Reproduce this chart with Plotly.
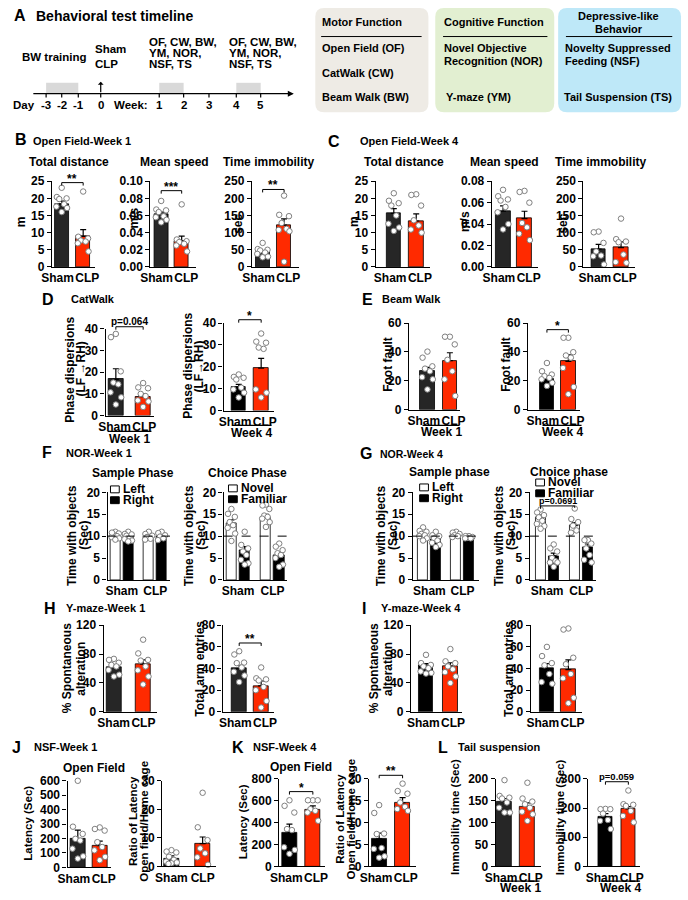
import plotly.graph_objects as go

W, H = 688, 900
FONT = "Arial, Liberation Sans, sans-serif"
RED = "#ff2a00"
DARK = "#262626"
BLACK = "#000000"
WHITE = "#ffffff"
DOT_EDGE = "#7f7f7f"

# ======================= DATA =======================
groups = ["Sham", "CLP"]
nor_groups = ["Sham", "CLP"]

# B  Open Field - Week 1
ofw1_dist_mean = [18.4, 8.9]
ofw1_dist_sem = [0.8, 2.0]
ofw1_dist_sham = [23.1, 20.4, 20.0, 19.8, 18.3, 17.6, 17.2, 16.0]
ofw1_dist_clp = [22.0, 8.8, 8.3, 7.7, 7.4, 6.9, 4.5]
ofw1_speed_mean = [0.062, 0.030]
ofw1_speed_sem = [0.002, 0.006]
ofw1_speed_sham = [0.077, 0.067, 0.066, 0.064, 0.059, 0.058, 0.055, 0.052]
ofw1_speed_clp = [0.073, 0.032, 0.030, 0.029, 0.027, 0.025, 0.018]
ofw1_immob_mean = [42, 122]
ofw1_immob_sem = [5, 18]
ofw1_immob_sham = [70, 52, 50, 48, 42, 38, 30, 28]
ofw1_immob_clp = [208, 152, 148, 128, 111, 108, 104, 15]

# C  Open Field - Week 4
ofw4_dist_mean = [15.6, 13.4]
ofw4_dist_sem = [1.4, 2.1]
ofw4_dist_sham = [21.5, 19.3, 18.6, 17.9, 15.0, 12.6, 11.5, 10.5]
ofw4_dist_clp = [21.2, 21.0, 17.9, 13.6, 12.1, 10.9, 10.0]
ofw4_speed_mean = [0.052, 0.045]
ofw4_speed_sem = [0.005, 0.007]
ofw4_speed_sham = [0.072, 0.066, 0.063, 0.062, 0.056, 0.051, 0.040, 0.035]
ofw4_speed_clp = [0.071, 0.070, 0.060, 0.041, 0.037, 0.031, 0.025]
ofw4_immob_mean = [52, 56]
ofw4_immob_sem = [14, 17]
ofw4_immob_sham = [103, 101, 70, 45, 33, 31, 7]
ofw4_immob_clp = [141, 81, 74, 72, 36, 14, 12]

# D  CatWalk phase dispersions
cw_w1_mean = [16.7, 8.7]
cw_w1_sem = [4.9, 1.4]
cw_w1_sham = [37.7, 36.2, 20.4, 15.2, 14.4, 10.7, 8.4, 5.1]
cw_w1_clp = [15.0, 13.0, 12.6, 10.0, 9.0, 7.0, 6.5, 4.0]
cw_w4_mean = [10.8, 19.4]
cw_w4_sem = [1.2, 4.5]
cw_w4_sham = [16.5, 15.4, 15.0, 14.2, 10.5, 9.7, 8.2, 6.0]
cw_w4_clp = [35.2, 31.5, 31.0, 28.8, 28.2, 9.7, 8.2, 6.0]

# E  Beam walk foot faults
bw_w1_mean = [26.6, 33.9]
bw_w1_sem = [2.7, 5.5]
bw_w1_sham = [40.2, 36.0, 30.0, 28.4, 26.6, 22.5, 21.0, 14.0]
bw_w1_clp = [50.5, 50.5, 45.2, 34.5, 26.6, 21.0, 9.5]
bw_w4_mean = [21.2, 33.4]
bw_w4_sem = [2.0, 4.5]
bw_w4_sham = [32.3, 26.6, 24.3, 23.2, 22.0, 21.0, 18.6, 16.4]
bw_w4_clp = [49.8, 49.8, 39.8, 37.5, 36.0, 28.9, 15.7, 10.7]

# F  NOR week 1  (order: Sham-a, Sham-b, CLP-a, CLP-b)
nor1_sample_mean = [10.0, 10.0, 10.0, 10.0]
nor1_sample_sem = [0.3, 0.3, 0.3, 0.3]
nor1_sample_pts = [[11.0, 10.6, 10.3, 10.0, 9.8, 9.5, 9.2, 10.8],
                   [11.0, 10.5, 10.1, 9.6, 9.3, 9.0, 8.8, 10.4],
                   [11.0, 10.5, 10.1, 9.8, 9.4, 9.2],
                   [11.0, 10.7, 10.2, 9.9, 9.5, 9.1]]
nor1_choice_mean = [12.9, 6.8, 14.4, 5.6]
nor1_choice_sem = [0.8, 0.8, 0.6, 0.6]
nor1_choice_pts = [[16.2, 15.1, 14.4, 13.2, 12.5, 11.9, 10.6, 8.9],
                   [11.0, 8.0, 7.2, 6.5, 5.7, 4.6, 3.8, 3.5],
                   [17.2, 17.0, 16.2, 14.7, 14.4, 14.0, 13.2, 12.1],
                   [8.3, 7.6, 6.8, 6.1, 5.7, 5.0, 3.5, 3.0]]

# G  NOR week 4
nor4_sample_mean = [10.5, 9.2, 10.4, 9.7]
nor4_sample_sem = [0.3, 0.4, 0.2, 0.2]
nor4_sample_pts = [[12.0, 11.2, 11.0, 10.5, 10.2, 10.0, 9.5, 9.0],
                   [11.0, 10.2, 10.0, 9.5, 9.0, 8.5, 8.0, 7.5],
                   [11.0, 10.8, 10.5, 10.2, 10.0, 9.8],
                   [10.0, 10.0, 9.8, 9.6, 9.5, 9.5]]
nor4_choice_mean = [14.3, 5.5, 12.4, 7.5]
nor4_choice_sem = [0.5, 0.6, 0.7, 0.7]
nor4_choice_pts = [[16.1, 15.4, 14.8, 14.3, 13.5, 12.8, 12.3, 11.7],
                   [8.1, 7.2, 6.5, 5.0, 4.3, 4.0, 4.0, 3.0],
                   [16.3, 13.9, 13.2, 12.4, 11.3, 10.8],
                   [9.1, 9.1, 8.3, 7.2, 5.7, 4.6, 4.0]]

# H / I  Y-maze
ym1_alt_mean = [62, 66]
ym1_alt_sem = [3, 6]
ym1_alt_sham = [73.4, 72.0, 68.0, 65.0, 63.0, 58.0, 51.5, 49.0]
ym1_alt_clp = [100, 81, 72, 71, 63, 57.5, 49, 38]
ym1_arm_mean = [40, 24]
ym1_arm_sem = [3, 4.5]
ym1_arm_sham = [56, 53, 45.5, 45, 41, 37, 33.5, 27.5]
ym1_arm_clp = [41, 31, 30, 29, 23, 20, 10, 4]
ym4_alt_mean = [64, 63]
ym4_alt_sem = [3, 5]
ym4_alt_sham = [79, 67.5, 65, 63, 60.5, 56, 54, 53]
ym4_alt_clp = [87, 70, 67.5, 63, 59, 55, 49, 40]
ym4_arm_mean = [40, 39]
ym4_arm_sem = [4.5, 9]
ym4_arm_sham = [60, 51.5, 45, 43, 35, 27.5, 26]
ym4_arm_clp = [77, 76, 50, 44, 35, 31, 13, 8]

# J / K  NSF
nsf1_lat_mean = [198, 150]
nsf1_lat_sem = [60, 32]
nsf1_lat_sham = [600, 282, 232, 198, 186, 130, 77, 61]
nsf1_lat_clp = [277, 266, 255, 175, 141, 118, 73, 50]
nsf1_ratio_mean = [2.6, 8.0]
nsf1_ratio_sem = [1.1, 2.3]
nsf1_ratio_sham = [5.7, 5.2, 4.9, 3.4, 2.3, 1.7, 1.4, 1.1, 0.9]
nsf1_ratio_clp = [25.8, 13.7, 9.2, 6.3, 4.6, 3.2, 0.6]
nsf4_lat_mean = [311, 517]
nsf4_lat_sem = [76, 36]
nsf4_lat_sham = [604, 553, 492, 341, 332, 175, 151, 115]
nsf4_lat_clp = [604, 604, 604, 523, 508, 492, 417]
nsf4_ratio_mean = [6.3, 14.5]
nsf4_ratio_sem = [1.3, 1.2]
nsf4_ratio_sham = [14.0, 12.2, 7.5, 7.4, 4.2, 4.0, 2.3, 2.0]
nsf4_ratio_clp = [18.9, 17.2, 16.6, 14.6, 13.6, 13.1, 12.7]

# L  Tail suspension
ts1_mean = [148, 137]
ts1_sem = [7, 8]
ts1_sham = [197, 161, 157, 155, 146, 134, 123, 123]
ts1_clp = [191, 155, 148, 142, 134, 125, 119, 104]
ts4_mean = [170, 197]
ts4_sem = [11, 8]
ts4_sham = [197, 196, 196, 181, 159, 156, 128]
ts4_clp = [260, 213, 211, 207, 190, 173, 151]

# A  timeline labels
day_labels = ["-3", "-2", "-1", "0"]
week_labels = ["1", "2", "3", "4", "5"]

# ======================= HELPERS =======================
fig = go.Figure()
LAY = {}
SHAPES = []
ANNS = []
_n = [0]


def X(p):
    return p / W


def Y(p):
    return 1 - p / H


def font(size):
    return dict(family=FONT, size=size, color="black", weight="bold")


def label(x, y, s, size=12, xanchor="center", yanchor="middle", angle=0):
    ANNS.append(dict(x=X(x), y=Y(y), xref="paper", yref="paper", text=s,
                     showarrow=False, font=font(size), xanchor=xanchor,
                     yanchor=yanchor, textangle=angle, borderpad=0))


def pline(x0, y0, x1, y1, width=1.2, color="black", dash=None):
    ln = dict(color=color, width=width)
    if dash:
        ln["dash"] = dash
    SHAPES.append(dict(type="line", xref="paper", yref="paper", x0=X(x0), y0=Y(y0),
                       x1=X(x1), y1=Y(y1), line=ln))


def prect(x0, y0, x1, y1, fill, line_w=0, line_c="black"):
    SHAPES.append(dict(type="rect", xref="paper", yref="paper", x0=X(x0), y0=Y(y1),
                       x1=X(x1), y1=Y(y0), fillcolor=fill,
                       line=dict(width=line_w, color=line_c)))


def make_axes(x0, x1, ytop, ybot, ymax, dtick, pos, c_first, c_last,
              tickvals, ticktext, fmt=None, label_spread_px=0.0):
    _n[0] += 1
    k = _n[0]
    s = "" if k == 1 else str(k)
    unit = (c_last - c_first) / (pos[-1] - pos[0])
    r0 = pos[0] - (c_first - x0) / unit
    r1 = pos[-1] + (x1 - c_last) / unit
    d = label_spread_px / unit
    tv = [tickvals[0] - d, tickvals[-1] + d]
    LAY["xaxis" + s] = dict(domain=[X(x0), X(x1)], range=[r0, r1], anchor="y" + s,
                            showline=True, linecolor="black", linewidth=1.3, ticks="",
                            tickmode="array", tickvals=tv, ticktext=ticktext,
                            tickangle=0, tickfont=font(12), showgrid=False,
                            zeroline=False, fixedrange=True)
    yax = dict(domain=[Y(ybot), Y(ytop)], range=[0, ymax], anchor="x" + s,
               showline=True, linecolor="black", linewidth=1.3, ticks="outside",
               ticklen=4, tickwidth=1.3, tickcolor="black", tick0=0, dtick=dtick,
               tickangle=0, tickfont=font(12), showgrid=False, zeroline=False,
               fixedrange=True)
    if fmt:
        yax["tickformat"] = fmt
    LAY["yaxis" + s] = yax
    return dict(x="x" + s, y="y" + s, r0=r0, r1=r1, unit=unit, ymax=ymax,
                hpx=ybot - ytop)


def add_bars(ax, pos, means, sems, colors, bw_px):
    fig.add_trace(go.Bar(
        x=pos, y=means, width=bw_px / ax["unit"], xaxis=ax["x"], yaxis=ax["y"],
        marker=dict(color=colors, line=dict(color="black", width=0.8)),
        error_y=dict(type="data", array=sems, arrayminus=[0] * len(sems),
                     symmetric=False, color="black", thickness=1.2, width=3),
        showlegend=False, hoverinfo="skip"))


JITTER_PX = [0, -5, 5, -2.5, 2.5, -5.5, 5.5, 0, -3, 3]


def add_dots(ax, p, vals, scale=1.0):
    order = sorted(range(len(vals)), key=lambda k: -vals[k])
    xs = [0.0] * len(vals)
    for r, k in enumerate(order):
        xs[k] = p + JITTER_PX[r % len(JITTER_PX)] * scale / ax["unit"]
    fig.add_trace(go.Scatter(
        x=xs, y=vals, mode="markers", xaxis=ax["x"], yaxis=ax["y"],
        marker=dict(size=5.5, color="white", line=dict(color=DOT_EDGE, width=1)),
        cliponaxis=False, showlegend=False, hoverinfo="skip"))


def dom_x(ax, p):
    return (p - ax["r0"]) / (ax["r1"] - ax["r0"])


def bracket(ax, pa, pb, yv, text, size=12, drop_px=3, shift=-4, drop_b=None):
    xr = ax["x"] + " domain"
    yr = ax["y"] + " domain"
    fa, fb = dom_x(ax, pa), dom_x(ax, pb)
    yf = yv / ax["ymax"]
    da = drop_px / ax["hpx"]
    db = (drop_b if drop_b is not None else drop_px) / ax["hpx"]
    ln = dict(color="black", width=1)
    SHAPES.append(dict(type="line", xref=xr, yref=yr, x0=fa, x1=fb, y0=yf, y1=yf, line=ln))
    SHAPES.append(dict(type="line", xref=xr, yref=yr, x0=fa, x1=fa, y0=yf, y1=yf - da, line=ln))
    SHAPES.append(dict(type="line", xref=xr, yref=yr, x0=fb, x1=fb, y0=yf, y1=yf - db, line=ln))
    ANNS.append(dict(x=(fa + fb) / 2, y=yf, xref=xr, yref=yr, text=text, showarrow=False,
                     font=font(size), xanchor="center", yanchor="bottom", yshift=shift,
                     borderpad=0))


LABEL_MIN_SEP = 30.5   # px between the centres of "Sham" and "CLP" labels


def two_bar(x0, x1, ytop, ybot, ymax, dtick, c0, c1, means, sems, sham, clp,
            sham_color=DARK, bw=15, fmt=None):
    spread = max(0.0, (LABEL_MIN_SEP - (c1 - c0)) / 2)
    ax = make_axes(x0, x1, ytop, ybot, ymax, dtick, [0, 1], c0, c1, [0, 1], groups,
                   fmt, spread)
    add_bars(ax, [0, 1], means, sems, [sham_color, RED], bw)
    add_dots(ax, 0, sham)
    add_dots(ax, 1, clp)
    return ax


NOR_POS = [0, 1, 2.6, 3.6]


def nor_panel(x0, x1, c_first, c_last, means, sems, pts, names, leg_x, leg_y):
    ax = make_axes(x0, x1, 493, 582, 20, 5, NOR_POS, c_first, c_last,
                   [0.5, 3.1], nor_groups)
    add_bars(ax, NOR_POS, means, sems, [WHITE, BLACK, WHITE, BLACK], 10.5)
    for p, v in zip(NOR_POS, pts):
        add_dots(ax, p, v, 0.7)
    SHAPES.append(dict(type="line", xref=ax["x"] + " domain", yref=ax["y"] + " domain",
                       x0=0, x1=1, y0=0.5, y1=0.5,
                       line=dict(color="black", width=1, dash="dash")))
    for i, (nm, fill) in enumerate(zip(names, [WHITE, BLACK])):
        yy = leg_y + i * 11
        prect(leg_x, yy - 3.5, leg_x + 9, yy + 3.5, fill, 1)
        label(leg_x + 12, yy, nm, 12, xanchor="left")
    return ax


# ======================= PANEL A =======================
label(9, 9, "A", 16)
label(25, 9, "Behavioral test timeline", 14, xanchor="left")

tl_y = 88
tick_px = [36, 52, 69, 92, 152, 177, 203, 231, 256]
for (a, b) in [(36, 69), (152, 177), (231, 256)]:
    prect(a, 77, b, tl_y, "#d9d9d9")
ANNS.append(dict(x=X(290), y=Y(tl_y), xref="paper", yref="paper", ax=-262, ay=0,
                 text="", showarrow=True, arrowhead=2, arrowsize=1, arrowwidth=1.2,
                 arrowcolor="black"))
for t in tick_px:
    pline(t, tl_y, t, tl_y + 4, 1.2)
ANNS.append(dict(x=X(92), y=Y(76), xref="paper", yref="paper", ax=0, ay=12,
                 text="", showarrow=True, arrowhead=1, arrowsize=0.8, arrowwidth=1.2,
                 arrowcolor="black"))
label(13, 100, "Day", 11.5)
for s, t in zip(day_labels + week_labels, tick_px):
    label(t, 100, s, 11.5)
label(123, 100, "Week:", 11.5)
label(45, 51, "BW training", 11.5)
label(85, 43, "Sham", 11.5, xanchor="left")
label(85, 58, "CLP", 11.5, xanchor="left")
for xl in (140, 222):
    label(xl, 36, "OF, CW, BW,", 11.5, xanchor="left")
    label(xl, 47, "YM, NOR,", 11.5, xanchor="left")
    label(xl, 58, "NSF, TS", 11.5, xanchor="left")


def rounded_box(x0, y0, x1, y1, r, fill):
    a0, a1 = X(x0), X(x1)
    b1, b0 = Y(y0), Y(y1)
    rx, ry = r / W, r / H
    path = (f"M{a0 + rx},{b1} L{a1 - rx},{b1} Q{a1},{b1} {a1},{b1 - ry} "
            f"L{a1},{b0 + ry} Q{a1},{b0} {a1 - rx},{b0} L{a0 + rx},{b0} "
            f"Q{a0},{b0} {a0},{b0 + ry} L{a0},{b1 - ry} Q{a0},{b1} {a0 + rx},{b1} Z")
    SHAPES.append(dict(type="path", xref="paper", yref="paper", path=path,
                       fillcolor=fill, line=dict(width=0), layer="below"))


rounded_box(312, 1, 428, 107, 9, "#eeebe5")
rounded_box(435, 1, 557, 107, 9, "#e2efd1")
rounded_box(561, 1, 687, 107, 9, "#bee8f8")

label(318, 15, "Motor Function", 11, xanchor="left")
pline(318, 30, 421, 30, 1)
label(318, 42, "Open Field (OF)", 11, xanchor="left")
label(318, 67, "CatWalk (CW)", 11, xanchor="left")
label(318, 91, "Beam Walk (BW)", 11, xanchor="left")

label(443, 15, "Cognitive Function", 11, xanchor="left")
pline(443, 30, 550, 30, 1)
label(443, 42, "Novel Objective", 11, xanchor="left")
label(443, 55, "Recognition (NOR)", 11, xanchor="left")
label(445, 91, "Y-maze (YM)", 11, xanchor="left")

label(623, 9, "Depressive-like", 11)
label(623, 22, "Behavior", 11)
pline(569, 30, 678, 30, 1)
label(567, 42, "Novelty Suppressed", 11, xanchor="left")
label(567, 55, "Feeding (NSF)", 11, xanchor="left")
label(566, 91, "Tail Suspension (TS)", 11, xanchor="left")

# ======================= PANEL B =======================
label(10, 135, "B", 16)
label(22, 136, "Open Field-Week 1", 11, xanchor="left")
label(59, 157, "Total distance", 12)
label(168, 157, "Mean speed", 12)
label(264, 157, "Time immobility", 12)
b1 = two_bar(42, 86, 177, 264, 25, 5, 52, 74, ofw1_dist_mean, ofw1_dist_sem,
             ofw1_dist_sham, ofw1_dist_clp, bw=14)
bracket(b1, 0, 1, 24.6, "**", 12)
b2 = two_bar(143, 190, 177, 264, 0.10, 0.02, 154, 175, ofw1_speed_mean, ofw1_speed_sem,
             ofw1_speed_sham, ofw1_speed_clp, bw=14, fmt=".2f")
bracket(b2, 0, 1, 0.089, "***", 12)
b3 = two_bar(247, 295, 177, 264, 250, 50, 258, 280, ofw1_immob_mean, ofw1_immob_sem,
             ofw1_immob_sham, ofw1_immob_clp, bw=14)
bracket(b3, 0, 1, 226, "**", 12)
label(10, 218, "m", 12, angle=-90)
label(126, 214, "m/s", 12, angle=-90)
label(232, 220, "sec", 12, angle=-90)

# ======================= PANEL C =======================
label(331, 137, "C", 16)
label(357, 136, "Open Field-Week 4", 11, xanchor="left")
label(403, 157, "Total distance", 12)
label(506, 157, "Mean speed", 12)
label(604, 157, "Time immobility", 12)
two_bar(374, 430, 177, 264, 25, 5, 392.5, 415.5, ofw4_dist_mean, ofw4_dist_sem,
        ofw4_dist_sham, ofw4_dist_clp)
two_bar(493, 540, 177, 264, 0.08, 0.02, 504.5, 526.5, ofw4_speed_mean, ofw4_speed_sem,
        ofw4_speed_sham, ofw4_speed_clp, fmt=".2f")
two_bar(587, 640, 177, 264, 250, 50, 602.5, 625.5, ofw4_immob_mean, ofw4_immob_sem,
        ofw4_immob_sham, ofw4_immob_clp)
label(351, 218, "m", 12, angle=-90)
label(465, 218, "m/s", 12, angle=-90)
label(566, 220, "sec", 12, angle=-90)

# ======================= PANEL D =======================
label(38, 297, "D", 16)
label(60, 297, "CatWalk", 11, xanchor="left")
d1 = two_bar(97, 147, 327, 415, 40, 10, 107.5, 135.5, cw_w1_mean, cw_w1_sem,
             cw_w1_sham, cw_w1_clp)
bracket(d1, 0, 1, 41, "p=0.064", 10, shift=-1)
d2 = two_bar(218, 270, 321, 410, 40, 10, 233.5, 256.5, cw_w4_mean, cw_w4_sem,
             cw_w4_sham, cw_w4_clp, sham_color=BLACK)
bracket(d2, 0, 1, 41.5, "*", 12)
label(61, 368, "Phase dispersions", 12, angle=-90)
label(72, 368, "(LF →RH)", 12, angle=-90)
label(182, 365, "Phase dispersions", 12, angle=-90)
label(193, 365, "(LF→RH)", 12, angle=-90)
pline(99, 431, 144, 431, 1.2)
label(121, 439, "Week 1", 12)
pline(227, 425, 267, 425, 1.2)
label(247, 433, "Week 4", 12)

# ======================= PANEL E =======================
label(366, 297, "E", 16)
label(379, 297, "Beam Walk", 11, xanchor="left")
two_bar(408, 460, 321, 409, 60, 20, 427, 450, bw_w1_mean, bw_w1_sem,
        bw_w1_sham, bw_w1_clp)
e2 = two_bar(530, 583, 321, 409, 60, 20, 549.5, 571.5, bw_w4_mean, bw_w4_sem,
             bw_w4_sham, bw_w4_clp, sham_color=BLACK)
bracket(e2, 0, 1, 55.4, "*", 12)
label(387, 363, "Foot fault", 12, angle=-90)
label(508, 363, "Foot fault", 12, angle=-90)
pline(422, 425, 460, 425, 1.2)
label(441, 432, "Week 1", 12)
pline(545, 425, 585, 425, 1.2)
label(565, 432, "Week 4", 12)

# ======================= PANEL F =======================
label(37, 453, "F", 16)
label(55, 453, "NOR-Week 1", 11, xanchor="left")
label(125, 473, "Sample Phase", 12)
label(243, 473, "Choice Phase", 12)
nor_panel(99, 163, 107, 154.5, nor1_sample_mean, nor1_sample_sem, nor1_sample_pts,
          ["Left", "Right"], 102, 490)
nor_panel(218, 283, 226, 275, nor1_choice_mean, nor1_choice_sem, nor1_choice_pts,
          ["Novel", "Familiar"], 223, 489)
label(62, 537, "Time with objects", 12, angle=-90)
label(74, 537, "(Sec)", 12, angle=-90)
label(182, 537, "Time with objects", 12, angle=-90)
label(194, 537, "(Sec)", 12, angle=-90)

# ======================= PANEL G =======================
label(364, 454, "G", 16)
label(377, 454, "NOR-Week 4", 10.5, xanchor="left")
label(450, 472, "Sample phase", 12)
label(572, 472, "Choice phase", 12)
nor_panel(412, 480, 422.5, 469.5, nor4_sample_mean, nor4_sample_sem, nor4_sample_pts,
          ["Left", "Right"], 419, 488)
g2 = nor_panel(532, 600, 543, 591.5, nor4_choice_mean, nor4_choice_sem, nor4_choice_pts,
               ["Novel", "Familiar"], 538, 483)
bracket(g2, 0, 2.6, 16.9, "p=0.0691", 9, shift=-1, drop_b=2)
label(379, 537, "Time with objects", 12, angle=-90)
label(391, 537, "(Sec)", 12, angle=-90)
label(500, 537, "Time with objects", 12, angle=-90)
label(512, 537, "(Sec)", 12, angle=-90)

# ======================= PANEL H =======================
label(40, 611, "H", 16)
label(55, 611, "Y-maze-Week 1", 11, xanchor="left")
two_bar(95, 150, 628, 716, 120, 40, 105.5, 135.5, ym1_alt_mean, ym1_alt_sem,
        ym1_alt_sham, ym1_alt_clp)
h2 = two_bar(217, 270, 628, 716, 80, 20, 234, 256.5, ym1_arm_mean, ym1_arm_sem,
             ym1_arm_sham, ym1_arm_clp)
bracket(h2, 0, 1, 63.6, "**", 12)
label(57, 672, "% Spontaneous", 12, angle=-90)
label(71, 672, "alteration", 12, angle=-90)
label(193, 672, "Total arm entries", 12, angle=-90)

# ======================= PANEL I =======================
label(362, 611, "I", 16)
label(378, 611, "Y-maze-Week 4", 11, xanchor="left")
two_bar(410, 462, 628, 716, 120, 40, 425.5, 450.5, ym4_alt_mean, ym4_alt_sem,
        ym4_alt_sham, ym4_alt_clp, sham_color=BLACK)
two_bar(533, 585, 628, 716, 80, 20, 549.5, 571.5, ym4_arm_mean, ym4_arm_sem,
        ym4_arm_sham, ym4_arm_clp, sham_color=BLACK)
label(372, 672, "% Spontaneous", 12, angle=-90)
label(386, 672, "alteration", 12, angle=-90)
label(510, 672, "Total arm entries", 12, angle=-90)

# ======================= PANEL J =======================
label(6, 752, "J", 16)
label(23, 752, "NSF-Week 1", 11, xanchor="left")
label(85, 773, "Open Field", 12)
two_bar(58, 103, 786, 874, 600, 100, 68.5, 91, nsf1_lat_mean, nsf1_lat_sem,
        nsf1_lat_sham, nsf1_lat_clp)
two_bar(155, 210, 786, 873, 30, 10, 164.5, 196.5, nsf1_ratio_mean, nsf1_ratio_sem,
        nsf1_ratio_sham, nsf1_ratio_clp)
label(18, 829, "Latency (Sec)", 11.5, angle=-90)
label(125, 827, "Ratio of Latency", 11.5, angle=-90)
label(137, 827, "Open field/Home cage", 11.5, angle=-90)

# ======================= PANEL K =======================
label(233, 752, "K", 16)
label(247, 752, "NSF-Week 4", 11, xanchor="left")
label(297, 772, "Open Field", 12)
k1 = two_bar(275, 322, 784, 873, 800, 200, 285.5, 309.5, nsf4_lat_mean, nsf4_lat_sem,
             nsf4_lat_sham, nsf4_lat_clp, sham_color=BLACK)
bracket(k1, 0, 1, 683, "*", 12)
k2 = two_bar(367, 415, 784, 873, 20, 5, 377.5, 401.5, nsf4_ratio_mean, nsf4_ratio_sem,
             nsf4_ratio_sham, nsf4_ratio_clp, sham_color=BLACK)
bracket(k2, 0, 1, 20.8, "**", 12)
label(238, 828, "Latency (Sec)", 11.5, angle=-90)
label(337, 825, "Ratio of Latency", 11.5, angle=-90)
label(349, 825, "Open field/Home cage", 11.5, angle=-90)

# ======================= PANEL L =======================
label(443, 752, "L", 16)
label(457, 752, "Tail suspension", 11, xanchor="left")
two_bar(497, 543, 784, 873, 200, 50, 506, 529.5, ts1_mean, ts1_sem, ts1_sham, ts1_clp)
l2 = two_bar(592, 645, 784, 873, 300, 100, 609.5, 633, ts4_mean, ts4_sem,
             ts4_sham, ts4_clp, sham_color=BLACK)
bracket(l2, 0, 1, 290, "p=0.059", 9.5, shift=-1)
label(455, 823, "Immobility time (Sec)", 11.5, angle=-90)
label(563, 823, "Immobility time (Sec)", 11.5, angle=-90)
pline(502, 888, 542, 888, 1.2)
label(522, 895, "Week 1", 12)
pline(605, 888, 645, 888, 1.2)
label(625, 895, "Week 4", 12)

# ======================= LAYOUT =======================
fig.update_layout(
    width=W, height=H, margin=dict(l=0, r=0, t=0, b=0),
    paper_bgcolor="white", plot_bgcolor="white",
    font=dict(family=FONT, size=12, color="black", weight="bold"),
    showlegend=False, barmode="overlay", bargap=0,
    shapes=SHAPES, annotations=ANNS, **LAY)

fig.write_html(
    "out.html",
    config={"displayModeBar": False},
    post_script="document.body.style.margin='0';document.body.style.padding='0';"
                "document.documentElement.style.overflow='hidden';",
)
